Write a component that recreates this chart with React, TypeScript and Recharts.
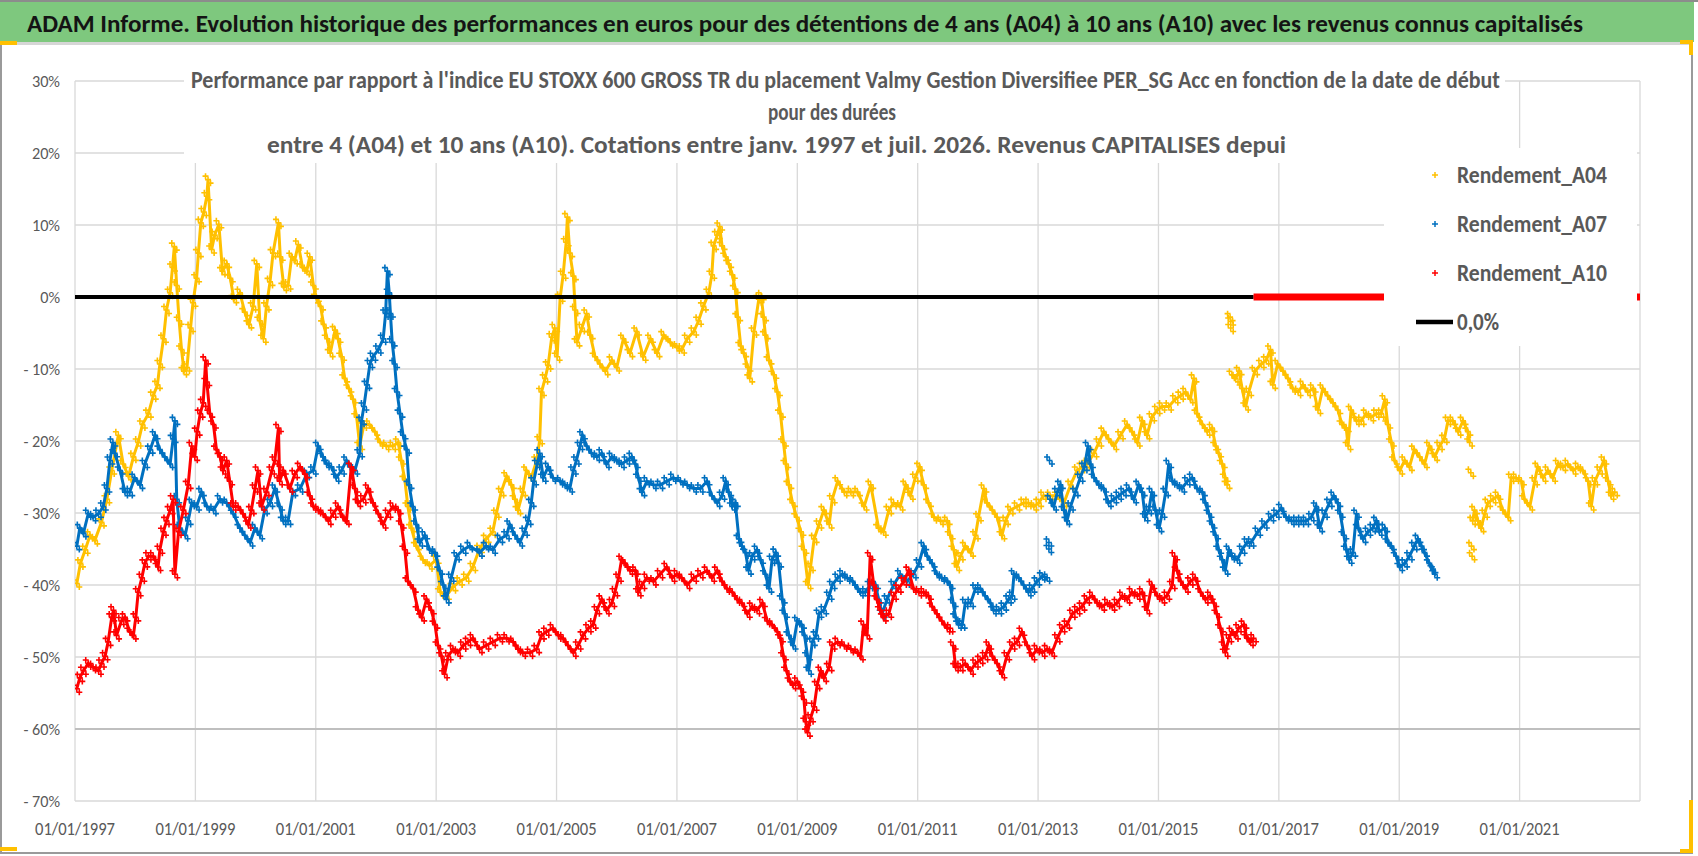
import React from 'react';
import { ScatterChart, Scatter, XAxis, YAxis, CartesianGrid, ReferenceLine } from 'recharts';

// ─── values (year as decimal, return in %) ───
const YEAR_TICKS = [1997, 1999, 2001, 2003, 2005, 2007, 2009, 2011, 2013, 2015, 2017, 2019, 2021];
const PCT_TICKS = [-70, -60, -50, -40, -30, -20, -10, 0, 10, 20, 30];

const A04_1997_2016 = [
  [1997.03,-39.8],[1997.09,-37.0],[1997.17,-35.1],[1997.25,-33.1],[1997.33,-33.8],[1997.44,-31.3],[1997.53,-28.1],[1997.61,-24.1],[1997.72,-19.2],[1997.80,-23.2],[1997.89,-24.9],[1997.97,-22.2],
  [1998.05,-20.2],[1998.12,-17.7],[1998.22,-16.2],[1998.30,-13.7],[1998.37,-12.2],[1998.41,-9.3],[1998.47,-5.8],[1998.52,-1.8],[1998.58,0.6],[1998.62,4.1],[1998.65,7.0],[1998.69,1.6],[1998.73,-3.3],[1998.77,-7.3],[1998.81,-10.3],[1998.86,-9.8],[1998.92,-4.3],[1998.96,-0.8],
  [1999.02,2.6],[1999.05,6.1],[1999.09,10.3],[1999.14,11.8],[1999.19,14.0],[1999.21,16.3],[1999.27,6.6],[1999.32,8.6],[1999.39,10.1],[1999.45,3.6],[1999.52,4.6],[1999.58,2.6],[1999.64,-0.3],[1999.74,0.6],[1999.82,-2.1],[1999.89,-3.8],[1999.96,-1.3],
  [2000.02,4.6],[2000.07,-3.3],[2000.13,-5.8],[2000.18,-1.3],[2000.24,2.1],[2000.29,6.1],[2000.38,10.3],[2000.41,5.6],[2000.47,1.4],[2000.54,1.6],[2000.60,5.6],[2000.65,5.1],[2000.71,7.3],[2000.78,4.1],[2000.85,3.6],[2000.90,5.6],[2000.96,1.6],
  [2001.01,-0.1],[2001.08,-1.3],[2001.13,-3.8],[2001.19,-5.8],[2001.24,-7.8],[2001.32,-4.6],[2001.37,-5.8],[2001.43,-8.3],[2001.48,-11.3],[2001.55,-12.7],[2001.62,-14.2],[2001.68,-16.7],[2001.73,-20.7],[2001.80,-17.7],[2001.89,-17.7],[2001.98,-18.7],
  [2002.07,-20.2],[2002.17,-20.7],[2002.28,-20.7],[2002.37,-20.2],[2002.42,-22.7],[2002.48,-25.4],[2002.53,-29.1],[2002.59,-32.1],[2002.67,-34.6],[2002.78,-36.5],[2002.89,-37.3],
  [2003.00,-36.5],[2003.07,-41.0],[2003.17,-41.5],[2003.28,-40.3],[2003.39,-39.5],[2003.50,-39.0],[2003.61,-37.5],[2003.72,-35.0],[2003.83,-33.6],[2003.94,-32.6],
  [2004.00,-30.1],[2004.08,-27.1],[2004.17,-24.9],[2004.25,-26.1],[2004.31,-28.1],[2004.36,-29.6],[2004.44,-27.1],[2004.50,-24.1],[2004.58,-25.1],[2004.67,-22.7],[2004.72,-19.9],[2004.75,-13.2],[2004.81,-11.3],[2004.86,-9.5],[2004.92,-5.6],[2004.97,-4.3],
  [2005.01,-8.3],[2005.06,-0.1],[2005.11,3.1],[2005.16,7.6],[2005.18,11.1],[2005.22,6.1],[2005.28,2.9],[2005.31,-1.8],[2005.34,-6.3],[2005.42,-4.3],[2005.50,-2.3],[2005.56,-5.3],[2005.64,-8.3],[2005.72,-9.3],[2005.81,-10.3],[2005.92,-8.8],
  [2006.00,-9.8],[2006.11,-5.8],[2006.22,-7.8],[2006.33,-4.8],[2006.44,-8.3],[2006.56,-5.8],[2006.67,-7.8],[2006.78,-5.3],[2006.89,-6.3],
  [2007.00,-7.0],[2007.08,-7.3],[2007.17,-5.8],[2007.28,-4.8],[2007.36,-3.3],[2007.44,-1.3],[2007.53,0.6],[2007.58,3.1],[2007.61,7.1],[2007.67,8.6],[2007.71,9.8],[2007.75,7.1],[2007.81,5.6],[2007.86,4.6],[2007.92,3.1],[2007.97,1.1],
  [2008.01,-2.8],[2008.06,-6.8],[2008.11,-7.8],[2008.18,-9.8],[2008.21,-11.3],[2008.28,-4.8],[2008.36,-0.3],[2008.40,0.1],[2008.44,-2.8],[2008.47,-5.3],[2008.53,-8.8],[2008.61,-10.8],[2008.67,-13.2],[2008.72,-16.2],[2008.77,-20.2],[2008.81,-23.2],[2008.86,-26.1],[2008.92,-28.6],[2008.99,-30.6],
  [2009.06,-32.6],[2009.11,-35.1],[2009.18,-40.0],[2009.22,-37.5],[2009.28,-33.6],[2009.36,-31.6],[2009.44,-29.6],[2009.53,-31.6],[2009.58,-28.1],[2009.67,-25.6],[2009.78,-27.1],[2009.89,-27.1],
  [2010.00,-27.1],[2010.11,-29.1],[2010.22,-26.1],[2010.35,-32.1],[2010.43,-32.6],[2010.52,-29.6],[2010.60,-28.6],[2010.71,-29.1],[2010.80,-26.1],[2010.88,-27.6],[2010.96,-25.1],
  [2011.03,-23.6],[2011.10,-26.1],[2011.18,-28.6],[2011.27,-30.6],[2011.38,-31.1],[2011.49,-31.1],[2011.54,-33.1],[2011.60,-35.1],[2011.65,-37.5],[2011.71,-36.0],[2011.79,-34.6],[2011.88,-35.5],[2011.96,-33.1],
  [2012.01,-30.6],[2012.10,-26.6],[2012.15,-28.6],[2012.24,-29.6],[2012.32,-30.6],[2012.40,-33.1],[2012.46,-31.1],[2012.54,-29.6],[2012.65,-29.1],[2012.76,-28.6],[2012.84,-28.6],[2012.93,-29.1],
  [2013.01,-28.6],[2013.09,-27.6],[2013.20,-27.6],[2013.32,-27.6],[2013.43,-28.6],[2013.54,-26.1],[2013.65,-24.1],[2013.73,-23.6],[2013.81,-23.2],[2013.93,-21.7],
  [2014.01,-20.2],[2014.09,-18.7],[2014.17,-19.7],[2014.26,-20.7],[2014.37,-19.2],[2014.48,-17.7],[2014.56,-18.7],[2014.65,-20.2],[2014.73,-17.2],[2014.81,-19.2],[2014.89,-16.7],[2014.98,-15.7],
  [2015.06,-15.2],[2015.17,-15.2],[2015.28,-14.2],[2015.37,-13.7],[2015.45,-13.2],[2015.53,-14.2],[2015.59,-11.3],[2015.64,-16.2],[2015.73,-17.7],[2015.81,-18.7],[2015.89,-18.2],[2015.95,-20.7],
  [2016.00,-21.7],[2016.06,-23.2],[2016.11,-25.1],[2016.14,-26.1],
];
const A04_2016_DOTS = [[2016.19,-2.8],[2016.2,-3.4],[2016.2,-4.3]];
const A04_2016_2020 = [
  [2016.22,-10.8],[2016.28,-11.3],[2016.34,-10.3],[2016.39,-12.7],[2016.45,-15.2],[2016.50,-13.2],[2016.60,-10.3],[2016.71,-9.3],[2016.79,-8.8],[2016.86,-7.3],[2016.90,-12.2],[2016.98,-9.3],
  [2017.07,-10.3],[2017.15,-11.3],[2017.23,-12.7],[2017.32,-13.2],[2017.40,-12.2],[2017.48,-13.2],[2017.57,-12.7],[2017.65,-15.7],[2017.73,-12.7],[2017.81,-13.7],[2017.90,-14.7],[2017.98,-15.7],
  [2018.05,-17.7],[2018.12,-18.2],[2018.15,-20.7],[2018.20,-15.7],[2018.29,-17.2],[2018.37,-17.2],[2018.45,-16.2],[2018.53,-16.7],[2018.62,-16.2],[2018.70,-16.2],[2018.76,-14.2],[2018.81,-17.7],[2018.87,-20.2],[2018.92,-22.7],
  [2019.01,-24.1],[2019.09,-22.7],[2019.17,-23.6],[2019.25,-21.2],[2019.34,-22.2],[2019.42,-23.2],[2019.50,-20.7],[2019.59,-22.2],[2019.67,-20.7],[2019.75,-19.7],[2019.81,-17.2],[2019.89,-17.2],[2019.98,-18.7],
  [2020.06,-17.2],[2020.14,-18.7],[2020.17,-20.2],
];
const A04_2020_DOTS = [[2020.19,-24.4],[2020.2,-34.6],[2020.21,-36.0]];
const A04_2020_2022 = [
  [2020.22,-31.1],[2020.25,-29.6],[2020.31,-31.1],[2020.36,-32.1],[2020.42,-30.1],[2020.47,-28.6],[2020.56,-28.1],[2020.64,-27.6],[2020.72,-29.6],[2020.81,-30.6],[2020.86,-25.1],[2020.94,-25.1],
  [2021.03,-25.6],[2021.08,-28.1],[2021.17,-29.1],[2021.25,-25.6],[2021.30,-23.6],[2021.39,-25.1],[2021.47,-24.1],[2021.55,-25.1],[2021.64,-23.2],[2021.72,-23.6],[2021.80,-23.2],[2021.89,-24.1],[2021.97,-23.6],
  [2022.05,-24.1],[2022.14,-25.6],[2022.19,-29.1],[2022.25,-25.6],[2022.33,-24.1],[2022.40,-22.7],[2022.47,-25.6],[2022.52,-27.6],[2022.58,-27.1],
];

const A07_1997_2013 = [
  [1997.03,-34.6],[1997.08,-32.1],[1997.14,-32.8],[1997.22,-30.1],[1997.30,-30.6],[1997.39,-30.1],[1997.47,-29.1],[1997.53,-26.6],[1997.58,-22.7],[1997.63,-20.2],[1997.66,-21.7],[1997.75,-24.1],[1997.83,-27.1],[1997.91,-27.1],[1997.99,-25.1],
  [1998.08,-26.1],[1998.16,-23.2],[1998.25,-21.2],[1998.33,-19.2],[1998.41,-21.2],[1998.49,-22.2],[1998.58,-23.2],[1998.63,-19.7],[1998.66,-17.2],[1998.69,-28.1],[1998.74,-32.1],[1998.83,-33.1],[1998.88,-31.1],[1998.94,-28.6],
  [1999.02,-29.1],[1999.10,-27.1],[1999.19,-29.1],[1999.30,-29.6],[1999.41,-28.1],[1999.52,-28.6],[1999.63,-30.1],[1999.74,-32.1],[1999.82,-33.1],[1999.91,-34.1],[1999.99,-32.1],
  [2000.07,-33.1],[2000.15,-29.6],[2000.24,-28.6],[2000.32,-26.6],[2000.40,-29.1],[2000.46,-31.1],[2000.54,-31.1],[2000.62,-27.1],[2000.74,-26.6],[2000.85,-24.6],[2000.96,-24.1],
  [2001.04,-20.7],[2001.12,-22.2],[2001.18,-23.2],[2001.26,-23.6],[2001.34,-25.1],[2001.43,-24.1],[2001.51,-22.7],[2001.57,-23.6],[2001.65,-24.1],[2001.73,-21.7],[2001.76,-17.2],[2001.80,-15.2],[2001.85,-12.2],[2001.90,-9.3],[2001.95,-8.3],
  [2002.04,-7.3],[2002.12,-5.8],[2002.16,-2.3],[2002.19,3.6],[2002.22,0.6],[2002.24,-2.3],[2002.27,-6.3],[2002.31,-9.3],[2002.35,-13.2],[2002.40,-16.2],[2002.45,-19.2],[2002.51,-21.2],[2002.55,-26.1],[2002.61,-29.1],[2002.67,-31.6],[2002.73,-34.1],[2002.81,-33.1],[2002.89,-35.1],[2002.98,-35.5],
  [2003.06,-38.0],[2003.12,-40.0],[2003.17,-42.0],[2003.25,-39.0],[2003.34,-36.0],[2003.45,-35.1],[2003.56,-34.6],[2003.72,-35.5],[2003.83,-34.6],[2003.94,-35.1],
  [2004.06,-33.6],[2004.17,-33.1],[2004.22,-31.6],[2004.31,-33.1],[2004.39,-34.1],[2004.47,-32.6],[2004.53,-31.1],[2004.58,-28.6],[2004.62,-25.6],[2004.68,-23.2],[2004.72,-21.7],[2004.78,-25.1],[2004.86,-23.6],[2004.94,-25.1],
  [2005.06,-25.6],[2005.14,-26.1],[2005.22,-26.6],[2005.28,-24.1],[2005.33,-22.7],[2005.39,-20.7],[2005.43,-19.2],[2005.50,-20.7],[2005.58,-21.7],[2005.67,-22.2],[2005.75,-21.7],[2005.83,-23.2],[2005.92,-22.2],
  [2006.00,-22.7],[2006.08,-23.2],[2006.17,-22.7],[2006.25,-22.2],[2006.31,-23.2],[2006.36,-25.1],[2006.42,-27.1],[2006.50,-25.6],[2006.61,-26.1],[2006.72,-26.1],[2006.83,-25.6],[2006.94,-25.1],
  [2007.06,-25.6],[2007.17,-26.1],[2007.28,-26.6],[2007.39,-26.6],[2007.50,-25.6],[2007.58,-27.6],[2007.67,-28.6],[2007.75,-27.6],[2007.81,-25.6],[2007.86,-27.1],[2007.92,-29.1],[2007.97,-28.6],
  [2008.03,-33.6],[2008.08,-34.6],[2008.14,-35.5],[2008.19,-38.0],[2008.25,-36.0],[2008.33,-35.1],[2008.39,-36.5],[2008.47,-38.5],[2008.53,-40.5],[2008.58,-36.5],[2008.64,-35.5],[2008.69,-37.0],[2008.75,-42.0],[2008.79,-44.0],[2008.86,-47.0],[2008.93,-48.4],
  [2009.00,-45.0],[2009.07,-45.5],[2009.12,-47.0],[2009.17,-49.9],[2009.19,-51.9],[2009.25,-47.9],[2009.31,-47.0],[2009.36,-44.0],[2009.44,-43.5],[2009.53,-41.5],[2009.58,-40.0],[2009.67,-39.0],[2009.75,-38.5],[2009.83,-39.0],[2009.92,-39.5],
  [2010.00,-40.5],[2010.05,-41.0],[2010.13,-41.0],[2010.21,-40.0],[2010.30,-40.0],[2010.35,-42.0],[2010.41,-44.0],[2010.49,-42.0],[2010.60,-40.0],[2010.71,-38.5],[2010.82,-39.5],[2010.93,-38.5],
  [2011.02,-37.0],[2011.10,-34.6],[2011.16,-36.0],[2011.24,-37.0],[2011.32,-38.5],[2011.40,-39.0],[2011.49,-39.5],[2011.54,-40.0],[2011.59,-42.5],[2011.63,-44.5],[2011.68,-45.5],[2011.74,-45.5],[2011.79,-42.5],[2011.88,-42.5],[2011.96,-40.5],
  [2012.04,-40.5],[2012.12,-41.5],[2012.21,-42.5],[2012.26,-43.5],[2012.35,-43.5],[2012.43,-43.0],[2012.51,-42.0],[2012.57,-41.5],[2012.60,-38.5],[2012.68,-39.0],[2012.76,-40.0],[2012.84,-41.0],[2012.90,-40.5],[2012.98,-39.5],
  [2013.07,-38.8],[2013.15,-39.0],
];
const A07_2013_DOTS = [[2013.18,-34.1],[2013.18,-35.0],[2013.19,-22.7]];
const A07_2013_2019 = [
  [2013.20,-28.1],[2013.26,-29.1],[2013.32,-27.1],[2013.37,-26.1],[2013.43,-29.6],[2013.48,-31.1],[2013.54,-29.1],[2013.62,-27.1],[2013.70,-25.1],[2013.77,-23.6],[2013.83,-20.7],[2013.87,-23.2],[2013.93,-25.1],
  [2014.01,-26.1],[2014.09,-26.6],[2014.17,-28.6],[2014.26,-28.1],[2014.34,-27.6],[2014.42,-27.1],[2014.51,-26.6],[2014.59,-28.1],[2014.67,-26.1],[2014.73,-27.1],[2014.78,-30.6],[2014.84,-29.6],[2014.89,-27.1],[2014.95,-29.6],
  [2015.01,-32.1],[2015.06,-30.1],[2015.12,-27.1],[2015.17,-23.2],[2015.23,-25.6],[2015.31,-26.1],[2015.39,-26.6],[2015.48,-25.6],[2015.56,-25.1],[2015.64,-26.6],[2015.73,-27.1],[2015.78,-28.6],[2015.84,-30.1],[2015.89,-31.6],[2015.95,-33.1],
  [2016.00,-35.1],[2016.06,-36.5],[2016.11,-38.0],[2016.17,-35.1],[2016.22,-36.0],[2016.31,-36.5],[2016.39,-35.1],[2016.47,-34.1],[2016.54,-34.1],[2016.65,-32.6],[2016.76,-31.6],[2016.87,-30.6],[2016.96,-30.1],
  [2017.04,-29.3],[2017.12,-30.6],[2017.21,-31.1],[2017.29,-31.1],[2017.37,-31.1],[2017.45,-31.1],[2017.54,-30.6],[2017.62,-29.1],[2017.68,-32.1],[2017.76,-30.1],[2017.84,-28.6],[2017.91,-27.6],[2017.98,-28.6],
  [2018.02,-30.1],[2018.08,-33.1],[2018.12,-35.1],[2018.17,-36.5],[2018.23,-35.5],[2018.29,-30.1],[2018.32,-32.1],[2018.40,-33.6],[2018.48,-32.6],[2018.56,-32.1],[2018.62,-31.1],[2018.67,-32.6],[2018.76,-32.1],[2018.81,-34.1],[2018.87,-34.6],[2018.95,-36.0],
  [2019.01,-37.5],[2019.09,-37.0],[2019.17,-36.0],[2019.25,-34.6],[2019.31,-33.6],[2019.37,-34.6],[2019.42,-35.5],[2019.50,-37.0],[2019.56,-37.8],[2019.59,-38.5],
];

const A10_1997_2011 = [
  [1997.03,-54.4],[1997.08,-52.9],[1997.14,-51.9],[1997.22,-50.9],[1997.30,-51.4],[1997.39,-51.9],[1997.44,-50.9],[1997.50,-49.9],[1997.55,-47.9],[1997.61,-44.5],[1997.64,-43.5],[1997.69,-47.0],[1997.77,-45.0],[1997.83,-44.5],[1997.91,-46.5],[1997.97,-47.0],
  [1998.01,-44.5],[1998.05,-41.0],[1998.11,-39.0],[1998.16,-37.0],[1998.22,-36.0],[1998.30,-36.0],[1998.38,-37.5],[1998.41,-35.1],[1998.47,-32.6],[1998.52,-31.1],[1998.58,-29.6],[1998.63,-28.1],[1998.66,-38.5],[1998.72,-32.6],[1998.80,-29.6],[1998.88,-26.1],[1998.94,-20.7],[1998.99,-22.2],
  [1999.03,-18.7],[1999.08,-16.2],[1999.13,-14.7],[1999.17,-8.8],[1999.19,-11.8],[1999.24,-16.2],[1999.30,-17.7],[1999.35,-21.2],[1999.41,-22.2],[1999.46,-24.1],[1999.52,-22.7],[1999.57,-25.6],[1999.63,-29.1],[1999.71,-29.1],[1999.79,-30.1],[1999.88,-31.6],[1999.93,-29.6],[1999.99,-26.6],
  [2000.04,-24.1],[2000.10,-29.1],[2000.18,-27.1],[2000.27,-24.1],[2000.32,-22.7],[2000.38,-18.2],[2000.40,-25.6],[2000.46,-24.1],[2000.57,-26.6],[2000.65,-24.6],[2000.74,-23.6],[2000.82,-24.6],[2000.90,-27.6],[2000.96,-29.1],
  [2001.04,-29.6],[2001.12,-30.1],[2001.21,-31.1],[2001.29,-30.1],[2001.37,-29.1],[2001.45,-30.6],[2001.51,-31.1],[2001.59,-23.6],[2001.65,-26.6],[2001.70,-28.6],[2001.79,-28.1],[2001.87,-26.6],[2001.95,-28.6],
  [2002.04,-30.1],[2002.12,-31.6],[2002.20,-30.1],[2002.28,-29.1],[2002.37,-29.6],[2002.42,-31.6],[2002.48,-35.1],[2002.53,-39.5],[2002.62,-40.5],[2002.70,-43.5],[2002.76,-44.5],[2002.84,-42.0],[2002.92,-43.5],[2002.98,-45.5],
  [2003.03,-48.4],[2003.09,-49.9],[2003.14,-52.4],[2003.20,-49.9],[2003.28,-48.9],[2003.36,-49.4],[2003.45,-48.4],[2003.53,-47.9],[2003.61,-47.4],[2003.72,-48.9],[2003.83,-48.4],[2003.94,-47.9],
  [2004.06,-47.4],[2004.17,-47.4],[2004.28,-47.9],[2004.36,-48.9],[2004.44,-49.4],[2004.56,-49.4],[2004.67,-48.9],[2004.75,-47.0],[2004.83,-46.5],[2004.94,-46.0],
  [2005.03,-47.0],[2005.11,-47.4],[2005.19,-48.4],[2005.28,-49.4],[2005.36,-48.4],[2005.44,-47.0],[2005.53,-46.0],[2005.61,-45.5],[2005.67,-43.5],[2005.75,-42.0],[2005.83,-43.5],[2005.92,-42.5],[2005.97,-41.0],
  [2006.03,-39.0],[2006.08,-36.5],[2006.14,-37.0],[2006.22,-38.0],[2006.31,-38.0],[2006.36,-41.0],[2006.42,-40.0],[2006.50,-39.0],[2006.61,-39.5],[2006.72,-38.5],[2006.83,-37.5],[2006.92,-39.0],
  [2007.00,-38.5],[2007.08,-39.0],[2007.17,-40.0],[2007.28,-39.0],[2007.39,-38.5],[2007.50,-38.0],[2007.58,-39.0],[2007.67,-38.0],[2007.75,-39.5],[2007.83,-40.5],[2007.92,-41.0],
  [2008.00,-42.0],[2008.08,-42.5],[2008.17,-44.0],[2008.25,-43.0],[2008.33,-43.5],[2008.42,-42.5],[2008.50,-45.0],[2008.58,-45.5],[2008.67,-46.5],[2008.72,-47.4],[2008.77,-49.9],[2008.82,-51.9],[2008.88,-53.4],[2008.93,-53.9],
  [2009.00,-53.4],[2009.06,-54.4],[2009.11,-55.9],[2009.14,-59.0],[2009.17,-60.5],[2009.22,-58.5],[2009.28,-56.9],[2009.33,-53.9],[2009.39,-51.9],[2009.44,-52.9],[2009.53,-51.4],[2009.58,-48.4],[2009.67,-47.9],[2009.78,-48.4],[2009.89,-48.9],
  [2010.00,-49.4],[2010.05,-49.9],[2010.10,-45.5],[2010.16,-47.0],[2010.21,-36.0],[2010.27,-40.0],[2010.32,-42.0],[2010.38,-43.5],[2010.43,-44.5],[2010.52,-44.0],[2010.60,-41.5],[2010.68,-40.5],[2010.77,-39.5],[2010.85,-38.0],[2010.93,-40.5],
  [2011.02,-41.0],[2011.10,-41.0],[2011.18,-41.5],[2011.24,-43.0],[2011.32,-44.0],[2011.40,-45.0],[2011.49,-46.0],[2011.54,-46.0],
];
const A10_2011_2016 = [
  [2011.59,-48.4],[2011.63,-51.4],[2011.71,-51.4],[2011.79,-50.9],[2011.88,-51.9],[2011.96,-50.9],
  [2012.04,-50.4],[2012.12,-49.9],[2012.18,-48.4],[2012.24,-49.9],[2012.32,-50.9],[2012.40,-52.4],[2012.48,-49.9],[2012.57,-48.4],[2012.65,-47.9],[2012.73,-46.5],[2012.82,-48.4],[2012.90,-49.9],[2012.98,-48.9],
  [2013.07,-49.4],[2013.15,-48.9],[2013.23,-49.4],[2013.32,-47.4],[2013.40,-46.0],[2013.48,-45.5],[2013.57,-44.0],[2013.65,-43.5],[2013.73,-43.0],[2013.81,-42.0],[2013.90,-41.5],[2013.98,-42.5],
  [2014.06,-43.0],[2014.15,-42.5],[2014.23,-43.0],[2014.31,-42.5],[2014.40,-41.5],[2014.48,-42.0],[2014.56,-41.0],[2014.65,-41.5],[2014.73,-41.0],[2014.81,-43.5],[2014.89,-40.0],[2014.98,-41.5],
  [2015.06,-42.0],[2015.14,-41.5],[2015.23,-40.0],[2015.27,-36.0],[2015.31,-38.0],[2015.37,-39.5],[2015.45,-40.5],[2015.53,-39.5],[2015.61,-39.0],[2015.70,-41.0],[2015.78,-42.0],[2015.86,-41.5],[2015.92,-42.5],[2015.97,-44.0],
  [2016.03,-46.0],[2016.09,-48.4],[2016.11,-49.4],[2016.17,-47.4],[2016.22,-46.5],[2016.28,-47.0],[2016.33,-46.0],[2016.42,-45.5],[2016.47,-47.4],[2016.53,-47.9],[2016.58,-47.4],
];
// A10 cells past its last date are zeros (the thick red run on 0%)
const A10_ZEROS = [[2016.58, 0], [2023.0, 0]];
const ZERO_LINE = [[1997.0, 0], [2016.58, 0]];

const C_A04 = '#FFC000';
const C_A07 = '#0070C0';
const C_A10 = '#FF0000';
const GREY_TEXT = '#595959';
const FONT = "Carlito, Calibri, 'Open Sans', 'Noto Sans', sans-serif";

const pts = (arr: number[][]) => arr.map(([x, y]) => ({ x, y }));

// Excel "+" marker, drawn as a small tuft so the dense daily band keeps its thickness
function plus(color: string, r = 3, w = 1.6) {
  const offs = [[0, 0], [-2.5, -3.5], [2.5, 3.5]];
  // eslint-disable-next-line @typescript-eslint/no-explicit-any
  return (p: any) => {
    if (p.cx == null || p.cy == null) return <g />;
    const d = offs
      .map(([dx, dy]) => {
        const x = p.cx + dx;
        const y = p.cy + dy;
        return `M${x - r},${y}H${x + r}M${x},${y - r}V${y + r}`;
      })
      .join('');
    return <path d={d} stroke={color} strokeWidth={w} fill="none" />;
  };
}
const noMark = () => <g />;

function pctLabel(v: number) {
  return v < 0 ? `- ${Math.abs(v)}%` : `${v}%`;
}

// eslint-disable-next-line @typescript-eslint/no-explicit-any
function YTick(props: any) {
  const { y, payload } = props;
  const label = pctLabel(payload.value);
  const digits = String(Math.abs(payload.value)).length;
  const len = digits * 8.3 + 11.5 + (payload.value < 0 ? 8.5 : 0);
  return (
    <text x={60} y={y + 6} textAnchor="end" fontSize={17} fill={GREY_TEXT} fontFamily={FONT}
      textLength={len} lengthAdjust="spacingAndGlyphs">
      {label}
    </text>
  );
}

// eslint-disable-next-line @typescript-eslint/no-explicit-any
function XTick(props: any) {
  const { x, payload } = props;
  return (
    <text x={x} y={835} textAnchor="middle" fontSize={18} fill={GREY_TEXT} fontFamily={FONT}
      textLength={80} lengthAdjust="spacingAndGlyphs">
      {`01/01/${payload.value}`}
    </text>
  );
}

const TITLE = 'ADAM Informe. Evolution historique des performances en euros pour des détentions de 4 ans (A04) à 10 ans (A10) avec les revenus connus capitalisés';
const SUB_1 = "Performance par rapport à l'indice EU STOXX 600 GROSS TR  du placement Valmy Gestion Diversifiee PER_SG Acc en fonction de la date de début";
const SUB_2 = 'pour des durées';
const SUB_3 = 'entre 4 (A04) et 10 ans (A10). Cotations entre janv. 1997 et juil. 2026. Revenus CAPITALISES depui';
const LEGEND = [
  { name: 'Rendement_A04', color: C_A04 },
  { name: 'Rendement_A07', color: C_A07 },
  { name: 'Rendement_A10', color: C_A10 },
];

function Overlay() {
  return (
    <svg width={1698} height={856} style={{ position: 'absolute', left: 0, top: 0, pointerEvents: 'none' }}>
      {/* frame + title bar */}
      <rect x={0} y={0} width={1698} height={2} fill="#8c8c8c" />
      <rect x={0} y={2} width={1694} height={40} fill="#7ec87e" />
      <rect x={0} y={42} width={1692} height={3} fill="#d6d6d6" />
      <rect x={0} y={44} width={2} height={810} fill="#9a9a9a" />
      <rect x={1691} y={44} width={2} height={810} fill="#9a9a9a" />
      <rect x={0} y={852} width={1693} height={2} fill="#9a9a9a" />
      <rect x={0} y={41} width={17} height={4} fill="#FFC000" />
      <rect x={1680} y={40} width={13} height={4} fill="#FFC000" />
      <rect x={1689} y={40} width={4} height={15} fill="#FFC000" />
      <rect x={1689} y={800} width={4} height={53} fill="#FFC000" />
      <rect x={1680} y={849} width={13} height={4} fill="#FFC000" />
      <rect x={0} y={847} width={17} height={4} fill="#FFC000" />
      <text x={27} y={32} fontSize={25} fontWeight={700} fill="#141414" fontFamily={FONT}
        textLength={1556} lengthAdjust="spacingAndGlyphs">{TITLE}</text>

      {/* chart title box */}
      <rect x={184} y={58} width={1321} height={105} fill="#fff" />
      <text x={191} y={88} fontSize={24} fontWeight={700} fill={GREY_TEXT} fontFamily={FONT}
        textLength={1309} lengthAdjust="spacingAndGlyphs">{SUB_1}</text>
      <text x={768} y={120} fontSize={24} fontWeight={700} fill={GREY_TEXT} fontFamily={FONT}
        textLength={128} lengthAdjust="spacingAndGlyphs">{SUB_2}</text>
      <text x={267} y={153} fontSize={24} fontWeight={700} fill={GREY_TEXT} fontFamily={FONT}
        textLength={1019} lengthAdjust="spacingAndGlyphs">{SUB_3}</text>

      {/* legend */}
      <rect x={1384} y={148} width={253} height={198} fill="#fff" />
      {LEGEND.map((l, i) => {
        const cy = 175 + i * 49;
        return (
          <g key={l.name}>
            <path d={`M1432,${cy}H1438M1435,${cy - 3}V${cy + 3}`} stroke={l.color} strokeWidth={1.5} />
            <text x={1457} y={cy + 8} fontSize={24} fontWeight={700} fill={GREY_TEXT} fontFamily={FONT}
              textLength={150} lengthAdjust="spacingAndGlyphs">{l.name}</text>
          </g>
        );
      })}
      <line x1={1416} x2={1453} y1={322} y2={322} stroke="#000" strokeWidth={4.5} />
      <text x={1457} y={330} fontSize={24} fontWeight={700} fill={GREY_TEXT} fontFamily={FONT}
        textLength={42} lengthAdjust="spacingAndGlyphs">0,0%</text>
    </svg>
  );
}

export default function App() {
  const seriesLine = (color: string) => ({ stroke: color, strokeWidth: 3 });
  return (
    <div style={{ position: 'relative', width: 1698, height: 856, background: '#fff', fontFamily: FONT }}>
      <style>{'body{margin:0}'}</style>
      <ScatterChart width={1698} height={856} margin={{ top: 81, right: 58, bottom: 15, left: 15 }}>
        <CartesianGrid stroke="#d9d9d9" strokeWidth={1.3} />
        <XAxis type="number" dataKey="x" domain={[1997, 2023]} ticks={YEAR_TICKS} height={40}
          axisLine={false} tickLine={false} tick={XTick} interval={0} allowDataOverflow />
        <YAxis type="number" dataKey="y" domain={[-70, 30]} ticks={PCT_TICKS} width={60}
          axisLine={false} tickLine={false} tick={YTick} interval={0} allowDataOverflow />
        <ReferenceLine y={-60} stroke="#bfbfbf" strokeWidth={2.2} />

        <Scatter name="Rendement_A04" data={pts(A04_1997_2016)} fill={C_A04} shape={plus(C_A04)} line={seriesLine(C_A04)} lineType="joint" isAnimationActive={false} />
        <Scatter data={pts(A04_2016_DOTS)} fill={C_A04} shape={plus(C_A04)} isAnimationActive={false} legendType="none" />
        <Scatter data={pts(A04_2016_2020)} fill={C_A04} shape={plus(C_A04)} line={seriesLine(C_A04)} lineType="joint" isAnimationActive={false} legendType="none" />
        <Scatter data={pts(A04_2020_DOTS)} fill={C_A04} shape={plus(C_A04)} isAnimationActive={false} legendType="none" />
        <Scatter data={pts(A04_2020_2022)} fill={C_A04} shape={plus(C_A04)} line={seriesLine(C_A04)} lineType="joint" isAnimationActive={false} legendType="none" />

        <Scatter name="Rendement_A07" data={pts(A07_1997_2013)} fill={C_A07} shape={plus(C_A07)} line={seriesLine(C_A07)} lineType="joint" isAnimationActive={false} />
        <Scatter data={pts(A07_2013_DOTS)} fill={C_A07} shape={plus(C_A07)} isAnimationActive={false} legendType="none" />
        <Scatter data={pts(A07_2013_2019)} fill={C_A07} shape={plus(C_A07)} line={seriesLine(C_A07)} lineType="joint" isAnimationActive={false} legendType="none" />

        <Scatter name="Rendement_A10" data={pts(A10_1997_2011)} fill={C_A10} shape={plus(C_A10)} line={seriesLine(C_A10)} lineType="joint" isAnimationActive={false} />
        <Scatter data={pts(A10_2011_2016)} fill={C_A10} shape={plus(C_A10)} line={seriesLine(C_A10)} lineType="joint" isAnimationActive={false} legendType="none" />

        <Scatter name="0,0%" data={pts(ZERO_LINE)} fill="#000" shape={noMark} line={{ stroke: '#000', strokeWidth: 4 }} lineType="joint" isAnimationActive={false} />
        <Scatter data={pts(A10_ZEROS)} fill={C_A10} shape={noMark} line={{ stroke: C_A10, strokeWidth: 7 }} lineType="joint" isAnimationActive={false} legendType="none" />
      </ScatterChart>
      <Overlay />
    </div>
  );
}
